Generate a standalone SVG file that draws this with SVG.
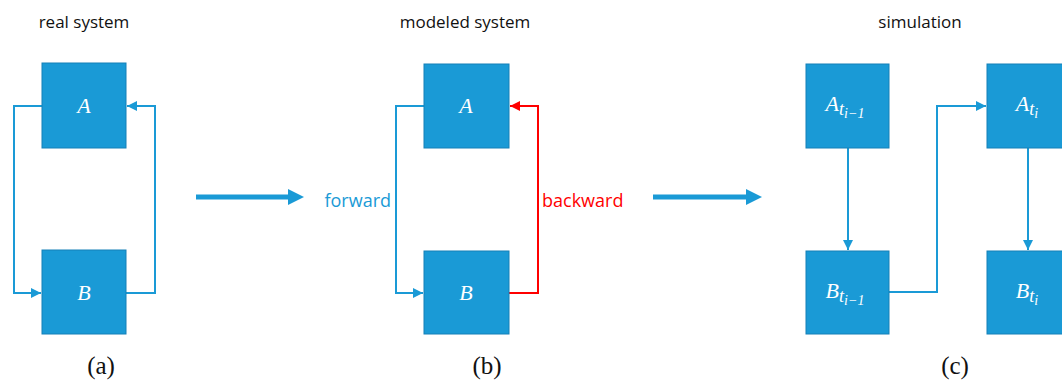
<svg xmlns="http://www.w3.org/2000/svg" width="1062" height="381" viewBox="0 0 1062 381">
  <style>
    .box { fill: #1a9ad6; stroke: #1580b8; stroke-width: 1; }
    .var { fill: #ffffff; font-family: "Liberation Serif", serif; font-style: italic; font-size: 22px; text-anchor: middle; }
    .sub { font-size: 18px; }
    .sub2 { font-size: 14px; }
    .title { fill: #111111; font-family: "Open Sans", "Liberation Sans", sans-serif; font-size: 17px; text-anchor: middle; }
    .cap { fill: #111111; font-family: "Liberation Serif", serif; font-size: 25px; text-anchor: middle; }
    .link { fill: none; stroke: #1a9ad6; stroke-width: 2; }
    .back { fill: none; stroke: #ff0000; stroke-width: 2; }
    .big { fill: none; stroke: #1a9ad6; stroke-width: 5; }
    .bighead { fill: #1a9ad6; }
    .lbl { font-family: "Open Sans", "Liberation Sans", sans-serif; font-size: 18px; }
  </style>
  <defs>
    <marker id="ah" viewBox="0 0 10 10" refX="10" refY="5" markerWidth="5" markerHeight="5" orient="auto" markerUnits="strokeWidth">
      <path d="M0,0 L10,5 L0,10 z" fill="#1a9ad6"/>
    </marker>
    <marker id="ahr" viewBox="0 0 10 10" refX="10" refY="5" markerWidth="5" markerHeight="5" orient="auto" markerUnits="strokeWidth">
      <path d="M0,0 L10,5 L0,10 z" fill="#ff0000"/>
    </marker>
  </defs>

  <!-- titles and captions -->
  <text class="title" x="84" y="28">real system</text>
  <text class="title" x="465" y="28">modeled system</text>
  <text class="title" x="920" y="28">simulation</text>
  <text class="cap" x="101" y="374">(a)</text>
  <text class="cap" x="487" y="374">(b)</text>
  <text class="cap" x="955" y="374">(c)</text>

  <!-- connectors -->
  <g id="connectors">
    <path class="link" d="M42,106 H14 V293 H41" marker-end="url(#ah)"/>
    <path class="link" d="M126,293 H155 V106 H127" marker-end="url(#ah)"/>
    <path class="big" d="M196,197 H290"/>
    <polygon class="bighead" points="288,189 304,197 288,205"/>
    <path class="link" d="M424,106 H396 V293 H423" marker-end="url(#ah)"/>
    <path class="back" d="M509,293 H538 V106 H510" marker-end="url(#ahr)"/>
    <path class="big" d="M653,197 H748"/>
    <polygon class="bighead" points="746,189 762,197 746,205"/>
    <path class="link" d="M848,148 V250" marker-end="url(#ah)"/>
    <path class="link" d="M889,292 H937 V106 H986" marker-end="url(#ah)"/>
    <path class="link" d="M1028,148 V250" marker-end="url(#ah)"/>
  </g>

  <text class="lbl" x="391" y="207" fill="#1a9ad6" text-anchor="end">forward</text>
  <text class="lbl" x="542" y="207" fill="#ff0000">backward</text>

  <!-- real system -->
  <g id="a-A">
    <rect class="box" x="42" y="63" width="84" height="85"/>
    <text class="var" x="84" y="113">A</text>
  </g>
  <g id="a-B">
    <rect class="box" x="42" y="250" width="84" height="84"/>
    <text class="var" x="84" y="300">B</text>
  </g>

  <!-- modeled system -->
  <g id="b-A">
    <rect class="box" x="424" y="64" width="85" height="84"/>
    <text class="var" x="466" y="113">A</text>
  </g>
  <g id="b-B">
    <rect class="box" x="424" y="251" width="85" height="83"/>
    <text class="var" x="466" y="300">B</text>
  </g>

  <!-- simulation -->
  <g id="c-A-prev">
    <rect class="box" x="806" y="64" width="83" height="84"/>
    <text class="var" x="845" y="111">A<tspan class="sub" dy="4">t</tspan><tspan class="sub2" dy="3">i−1</tspan></text>
  </g>
  <g id="c-B-prev">
    <rect class="box" x="806" y="251" width="83" height="83"/>
    <text class="var" x="845" y="298">B<tspan class="sub" dy="4">t</tspan><tspan class="sub2" dy="3">i−1</tspan></text>
  </g>
  <g id="c-A-cur">
    <rect class="box" x="987" y="64" width="90" height="84"/>
    <text class="var" x="1027" y="111">A<tspan class="sub" dy="4">t</tspan><tspan class="sub2" dy="3">i</tspan></text>
  </g>
  <g id="c-B-cur">
    <rect class="box" x="987" y="251" width="90" height="83"/>
    <text class="var" x="1027" y="298">B<tspan class="sub" dy="4">t</tspan><tspan class="sub2" dy="3">i</tspan></text>
  </g>
</svg>
